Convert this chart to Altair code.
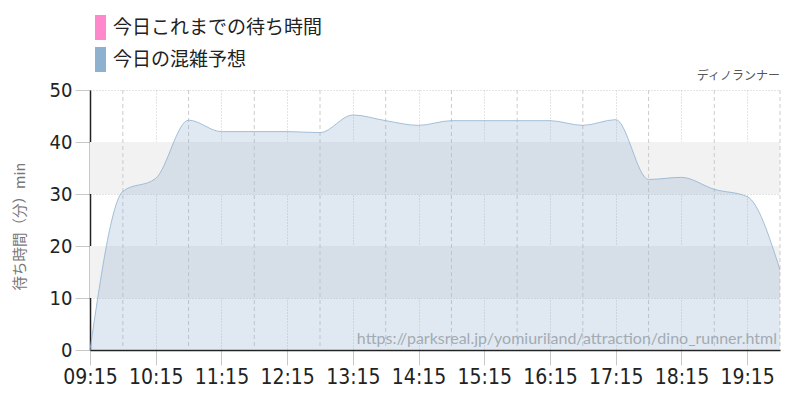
import altair as alt
import pandas as pd

# ---- data ----
times = ["09:15", "09:45", "10:15", "10:45", "11:15", "11:45", "12:15", "12:45",
         "13:15", "13:45", "14:15", "14:45", "15:15", "15:45", "16:15", "16:45",
         "17:15", "17:45", "18:15", "18:45", "19:15", "19:45"]
forecast = [0, 30.5, 33, 44.2, 42, 42, 42, 41.8,
            45.2, 44.1, 43.2, 44.1, 44.1, 44.1, 44.1, 43.2,
            44.3, 32.8, 33.2, 30.9, 29.5, 15.4]
series_names = ["今日これまでの待ち時間", "今日の混雑予想"]
series_colors = ["#ff88cc", "#8fb1d0"]
hour_labels = ["09:15", "10:15", "11:15", "12:15", "13:15", "14:15",
               "15:15", "16:15", "17:15", "18:15", "19:15"]
y_ticks = [0, 10, 20, 30, 40, 50]
band_lo = [10, 30]
band_hi = [20, 40]
attraction = "ディノランナー"
source_url = "https://parksreal.jp/yomiuriland/attraction/dino_runner.html"
y_title = "待ち時間（分）min"

NUM_FONT = "DejaVu Sans Condensed"
JP_FONT = "Noto Sans CJK JP"


def mins(t):
    h, m = t.split(":")
    return int(h) * 60 + int(m) - (9 * 60 + 15)


x_end = mins(times[-1])
df = pd.DataFrame({"t": [mins(t) for t in times], "v": forecast, "s": series_names[1]})
half_df = pd.DataFrame({"t": [mins(t) for t in times if t.endswith(":45")]})
band_df = pd.DataFrame({"lo": band_lo, "hi": band_hi, "x0": 0, "x1": x_end})
hour_vals = [mins(t) for t in hour_labels]
label_expr = "[" + ",".join("'%s'" % h for h in hour_labels) + "][round(datum.value/60)]"

xscale = alt.Scale(domain=[0, x_end], nice=False)
yscale = alt.Scale(domain=[0, 50], nice=False)

x_axis = alt.Axis(values=hour_vals, labelExpr=label_expr, grid=True, gridColor="#c8c8c8",
                  gridDash=[1, 2], tickColor="#c8c8c8", tickSize=15, domainColor="#222",
                  domainWidth=1.5, labelFont=NUM_FONT, labelFontSize=21, labelColor="#222",
                  labelPadding=1, title=None, labelFlush=False)
y_axis = alt.Axis(values=y_ticks, grid=True, gridColor="#c8c8c8", gridDash=[1, 2],
                  tickColor="#c8c8c8", tickSize=15, domainColor="#222", domainWidth=1.5,
                  labelFont=NUM_FONT, labelFontSize=20, labelColor="#222", labelPadding=3,
                  title=y_title, titleFont=JP_FONT, titleFontSize=14.5, titleColor="#777",
                  titleFontWeight="normal", titlePadding=22, titleY=136)

bands = alt.Chart(band_df).mark_rect(color="#f2f2f2").encode(
    x=alt.X("x0:Q", scale=xscale, axis=x_axis),
    x2="x1:Q",
    y=alt.Y("lo:Q", scale=yscale, axis=y_axis),
    y2="hi:Q",
)

half_rules = alt.Chart(half_df).mark_rule(color="#cccccc", strokeDash=[4, 3], strokeWidth=1).encode(
    x=alt.X("t:Q", scale=xscale)
)

area = alt.Chart(df).mark_area(
    interpolate="monotone", fillOpacity=0.28,
    line={"strokeWidth": 1, "strokeOpacity": 0.8}
).encode(
    x=alt.X("t:Q", scale=xscale),
    y=alt.Y("v:Q", scale=yscale),
    color=alt.Color(
        "s:N",
        scale=alt.Scale(domain=series_names, range=series_colors),
        legend=alt.Legend(
            title=None, orient="none", legendX=-2, legendY=-75,
            symbolType="M-0.44,-1H0.44V1H-0.44Z", symbolSize=625,
            symbolOpacity=1, symbolStrokeWidth=0, labelFont=JP_FONT,
            labelFontSize=19, labelColor="#222", labelOffset=0, rowPadding=7,
            padding=0, labelLimit=0,
        ),
    ),
)

name_df = pd.DataFrame({"x": [x_end], "y": [50], "txt": [attraction]})
name_text = alt.Chart(name_df).mark_text(
    align="right", baseline="bottom", dy=-7, font=JP_FONT, fontSize=12, color="#555"
).encode(x=alt.X("x:Q", scale=xscale), y=alt.Y("y:Q", scale=yscale), text="txt:N")

url_df = pd.DataFrame({"x": [x_end], "y": [0], "txt": [source_url]})
url_text = alt.Chart(url_df).mark_text(
    align="right", baseline="bottom", dx=-3, dy=-3, font="Lato", fontSize=16, color="#a3abb3"
).encode(x=alt.X("x:Q", scale=xscale), y=alt.Y("y:Q", scale=yscale), text="txt:N")

chart = alt.layer(bands, half_rules, area, name_text, url_text).properties(
    width=690, height=260,
    padding={"left": 82, "top": 82, "right": 12, "bottom": 42},
    autosize=alt.AutoSizeParams(type="none"),
).configure_view(stroke=None)

chart.save("out.html", embed_options={"renderer": "svg", "actions": False})
